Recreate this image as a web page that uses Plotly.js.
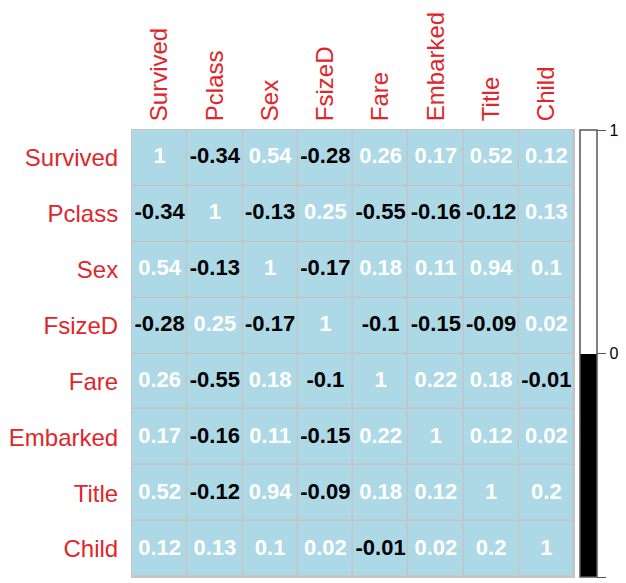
<!DOCTYPE html>
<html>
<head>
<meta charset="utf-8">
<script src="https://cdn.plot.ly/plotly-3.0.1.min.js"></script>
<style>html,body{margin:0;padding:0;background:#fff;}#chart{width:626px;height:583px;}</style>
</head>
<body>
<div id="chart"></div>
<script>
const vars = ["Survived","Pclass","Sex","FsizeD","Fare","Embarked","Title","Child"];
const survived = [1, -0.34, 0.54, -0.28, 0.26, 0.17, 0.52, 0.12];
const pclass   = [-0.34, 1, -0.13, 0.25, -0.55, -0.16, -0.12, 0.13];
const sex      = [0.54, -0.13, 1, -0.17, 0.18, 0.11, 0.94, 0.1];
const fsizeD   = [-0.28, 0.25, -0.17, 1, -0.1, -0.15, -0.09, 0.02];
const fare     = [0.26, -0.55, 0.18, -0.1, 1, 0.22, 0.18, -0.01];
const embarked = [0.17, -0.16, 0.11, -0.15, 0.22, 1, 0.12, 0.02];
const title    = [0.52, -0.12, 0.94, -0.09, 0.18, 0.12, 1, 0.2];
const child    = [0.12, 0.13, 0.1, 0.02, -0.01, 0.02, 0.2, 1];
const colorbarTicks = [-1, 0, 1];

const matrix = [survived, pclass, sex, fsizeD, fare, embarked, title, child];

const tx = [], ty = [], tt = [], tc = [];
matrix.forEach((row, i) => row.forEach((v, j) => {
  tx.push(vars[j]); ty.push(vars[i]); tt.push(String(v));
  tc.push(v < 0 ? '#000000' : '#ffffff');
}));

const FONT = 'Liberation Sans, Arial, sans-serif';

const traces = [
  {
    type: 'heatmap', x: vars, y: vars, z: matrix,
    colorscale: [[0,'#ADD8E6'],[1,'#ADD8E6']], showscale: false,
    xgap: 1.5, ygap: 1.5, hoverinfo: 'skip'
  },
  {
    type: 'scatter', mode: 'text', x: tx, y: ty, text: tt,
    textfont: {family: FONT, size: 22, color: tc, weight: 'bold'},
    hoverinfo: 'skip', showlegend: false
  },
  {
    type: 'scatter', mode: 'markers', x: [vars[0], vars[0]], y: [vars[0], vars[0]],
    marker: {
      size: 0.1, opacity: 0, color: [colorbarTicks[0], colorbarTicks[2]],
      cmin: colorbarTicks[0], cmax: colorbarTicks[2],
      colorscale: [[0,'#000000'],[0.5,'#000000'],[0.5,'#ffffff'],[1,'#ffffff']],
      showscale: true,
      colorbar: {
        x: 1.0135, xanchor: 'left', xpad: 0, y: 0.5, yanchor: 'middle', ypad: 0,
        len: 1, lenmode: 'fraction', thickness: 17, thicknessmode: 'pixels',
        outlinewidth: 1.5, outlinecolor: '#555555', borderwidth: 0,
        tickmode: 'array', tickvals: colorbarTicks, ticktext: colorbarTicks.map(String),
        ticks: 'outside', ticklen: 9, tickcolor: '#555555', tickwidth: 1,
        tickfont: {family: FONT, size: 16, color: '#000'}
      }
    },
    hoverinfo: 'skip', showlegend: false
  }
];

const layout = {
  width: 626, height: 583,
  margin: {l: 132, r: 48, t: 130, b: 6, pad: 0},
  paper_bgcolor: '#ffffff', plot_bgcolor: '#c4c4c4',
  showlegend: false,
  font: {family: FONT},
  xaxis: {
    type: 'category', side: 'top', tickangle: -90, showgrid: false, zeroline: false,
    ticks: 'outside', ticklen: 3, tickcolor: 'rgba(0,0,0,0)',
    tickfont: {size: 24, color: '#e0262b'},
    showline: true, linecolor: '#c4c4c4', linewidth: 1, mirror: true,
    range: [-0.5, 7.5], fixedrange: true
  },
  yaxis: {
    type: 'category', autorange: 'reversed', showgrid: false, zeroline: false,
    ticks: 'outside', ticklen: 8, tickcolor: 'rgba(0,0,0,0)',
    tickfont: {size: 24, color: '#e0262b'},
    showline: true, linecolor: '#c4c4c4', linewidth: 1, mirror: true,
    fixedrange: true
  }
};

Plotly.newPlot('chart', traces, layout, {displayModeBar: false, staticPlot: true});
</script>
</body>
</html>
